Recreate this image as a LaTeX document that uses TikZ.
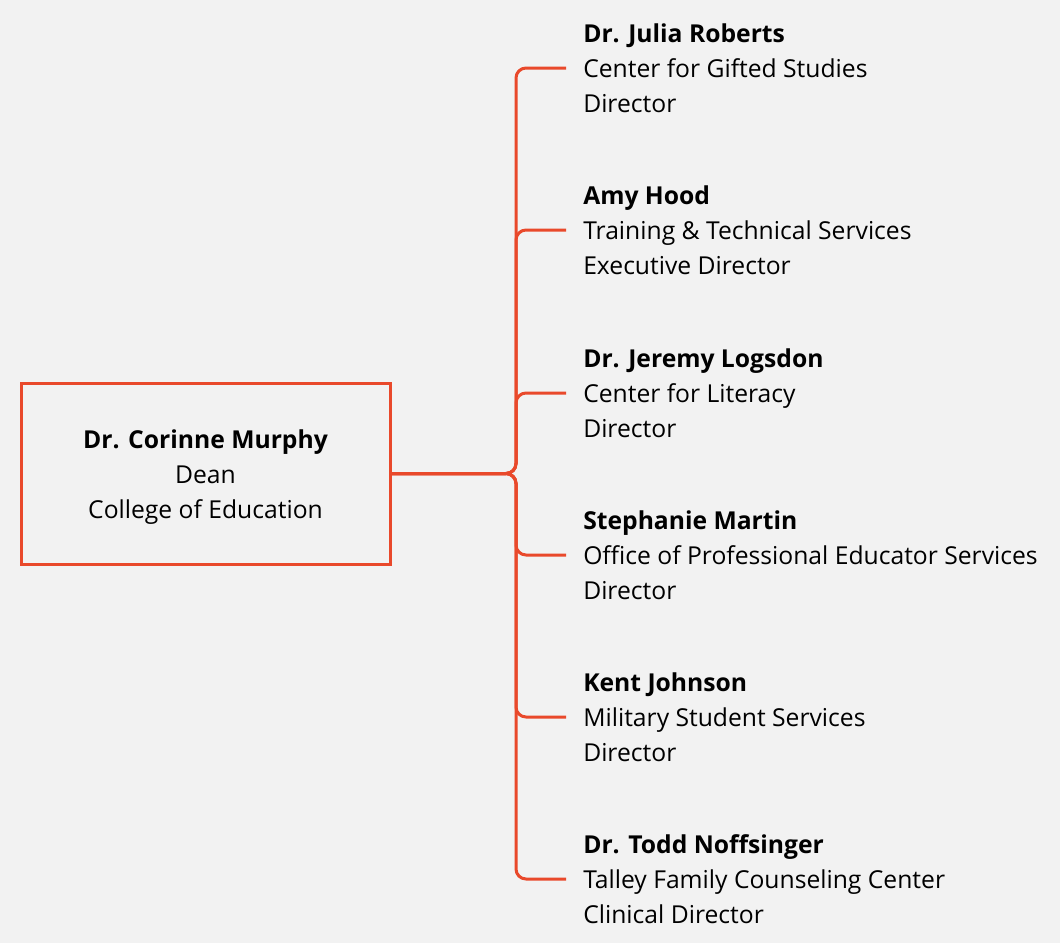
\documentclass[tikz,border=0pt]{standalone}
\usepackage{fontspec}
\setmainfont{Open Sans}
\usetikzlibrary{positioning}
\definecolor{linkred}{HTML}{E9492B}
\definecolor{paper}{HTML}{F2F2F2}
\tikzset{
  deanbox/.style={draw=linkred, line width=2.25pt, minimum width=276.75pt,
    minimum height=135.75pt, align=center, font=\fontsize{18.5}{26.25}\selectfont},
  staff/.style={anchor=west, align=left, inner xsep=12.75pt, inner ysep=0pt,
    font=\fontsize{18.5}{26.25}\selectfont},
  link/.style={draw=linkred, line width=2.25pt, rounded corners=7.5pt}
}
\begin{document}
\begin{tikzpicture}[x=0.75pt, y=-0.75pt]
  \fill[paper] (0,0) rectangle (1060,943);
  \useasboundingbox (0,0) rectangle (1060,943);

  \node[deanbox] (dean) at (205.5,473.5) {\rule{0pt}{19.5pt}\textbf{Dr. Corinne Murphy}\\Dean\\College of Education};

  \node[staff] (roberts) at (566,68) {\textbf{Dr. Julia Roberts}\\Center for Gifted Studies\\Director};
  \node[staff] (hood) at (566,230) {\textbf{Amy Hood}\\Training \& Technical Services\\Executive Director};
  \node[staff] (logsdon) at (566,393) {\textbf{Dr. Jeremy Logsdon}\\Center for Literacy\\Director};
  \node[staff] (martin) at (566,555) {\textbf{Stephanie Martin}\\Office of Professional Educator Services\\Director};
  \node[staff] (johnson) at (566,717) {\textbf{Kent Johnson}\\Military Student Services\\Director};
  \node[staff] (noffsinger) at (566,879) {\textbf{Dr. Todd Noffsinger}\\Talley Family Counseling Center\\Clinical Director};

  \foreach \n in {roberts,hood,logsdon,martin,johnson,noffsinger}
    \draw[link] (dean.east) -- (516,473.5) |- (\n.west);
\end{tikzpicture}
\end{document}
